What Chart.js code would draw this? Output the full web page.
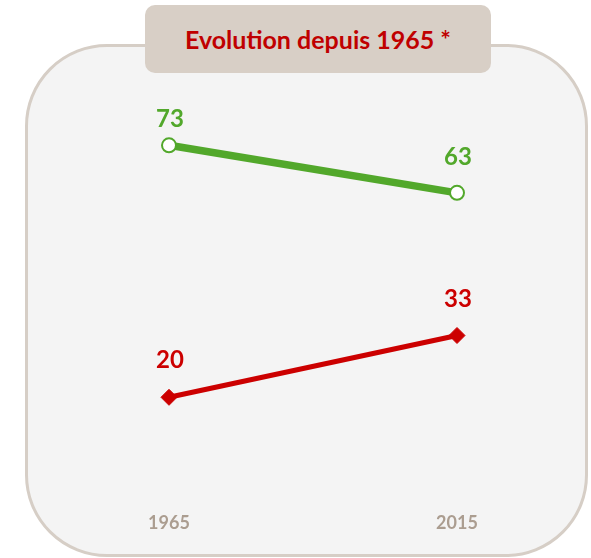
<!DOCTYPE html>
<html>
<head>
<meta charset="utf-8">
<script src="https://cdn.jsdelivr.net/npm/chart.js@4/dist/chart.umd.min.js"></script>
<style>
  html, body { margin:0; padding:0; background:#ffffff; }
  #wrap { position:relative; width:591px; height:558px; overflow:hidden; }
  #panel { position:absolute; left:25px; top:44px; width:563px; height:513px; box-sizing:border-box;
           border:3px solid #d6cec6; border-radius:82px; background:#f4f4f4; }
  #title { position:absolute; left:145px; top:5px; width:346px; height:68px; border-radius:10px;
           background:#d8cfc6; color:#c00000; font:bold 25px Lato, "Open Sans", sans-serif;
           display:flex; align-items:center; justify-content:center; }
  #c { position:absolute; left:0; top:0; }
</style>
</head>
<body>
<div id="wrap">
  <div id="panel"></div>
  <canvas id="c" width="591" height="558"></canvas>
  <div id="title">Evolution depuis 1965 *</div>
</div>
<script>
const categories = ["1965", "2015"];
const greenSeries = [73, 63];
const redSeries = [20, 33];

const valueLabels = {
  id: 'valueLabels',
  afterDatasetsDraw(chart, args, opts) {
    const ctx = chart.ctx;
    ctx.save();
    ctx.font = 'bold 24px Lato, "Open Sans", sans-serif';
    ctx.textAlign = 'center';
    ctx.textBaseline = 'middle';
    chart.data.datasets.forEach((ds, di) => {
      const meta = chart.getDatasetMeta(di);
      meta.data.forEach((pt, i) => {
        const off = (opts.offsets[di] && opts.offsets[di][i]) || 36;
        ctx.fillStyle = ds.borderColor;
        ctx.fillText(String(ds.data[i]), pt.x + 1, pt.y - off);
      });
    });
    ctx.restore();
  }
};

new Chart(document.getElementById('c'), {
  type: 'line',
  data: {
    labels: categories,
    datasets: [
      { data: greenSeries, borderColor: '#52a82b', borderWidth: 7.5, pointStyle: 'circle',
        pointRadius: 7, pointBorderWidth: 2, pointBackgroundColor: '#ffffff', pointBorderColor: '#52a82b' },
      { data: redSeries, borderColor: '#cc0000', borderWidth: 5, pointStyle: 'rectRot',
        pointRadius: 8, pointBorderWidth: 1, pointBackgroundColor: '#cc0000', pointBorderColor: '#cc0000' }
    ]
  },
  options: {
    responsive: false,
    animation: false,
    layout: { padding: { left: 169, right: 134, top: 112, bottom: 12 } },
    plugins: { legend: { display: false }, tooltip: { enabled: false },
               valueLabels: { offsets: [[26, 36], [37, 36]] } },
    scales: {
      x: { offset: false, grid: { display: false }, border: { display: false },
           ticks: { padding: 12, color: '#ab9d90', font: { family: 'Lato, "Open Sans", sans-serif', size: 18, weight: 'bold' } } },
      y: { display: false, min: 0, max: 80 }
    }
  },
  plugins: [valueLabels]
});
</script>
</body>
</html>
